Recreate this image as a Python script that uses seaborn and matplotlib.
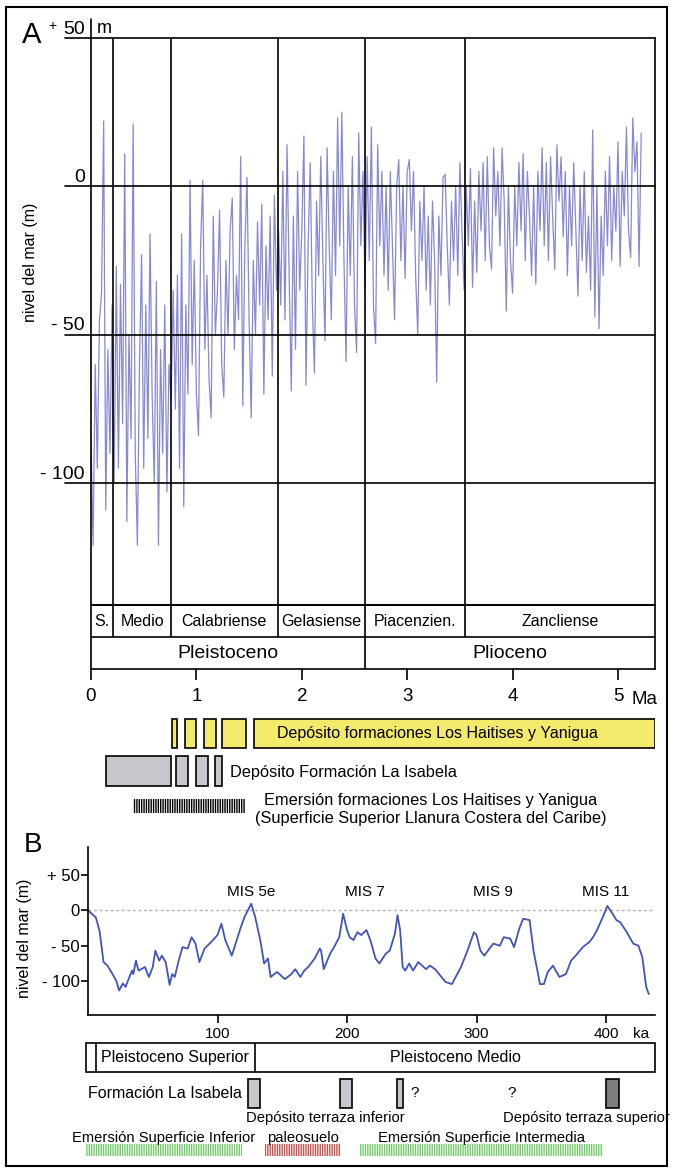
import numpy as np
import matplotlib
matplotlib.use("Agg")
import matplotlib.pyplot as plt
from matplotlib.patches import Rectangle
import seaborn as sns

# ---------------- data ----------------
# A: sea level (m), one reading every 0.02 Ma, from 0 to 5.22 Ma
ma_step = 0.02
sea_level_a = [
    -85, -121, -60, -95, -45, -36, 22, -109, -55, -90,
    -40, -100, -27, -95, -33, -80, 11, -113, -50, -85,
    21, -90, -121, -60, -23, -95, -40, -85, -16, -70,
    -100, -32, -121, -55, -90, -40, -103, -60, -72, -35,
    -75, -30, -95, -16, -108, -40, -70, 2, -60, -25,
    -70, -84, -20, 2, -55, -30, -65, -78, -10, -50,
    -35, -8, -60, -71, -25, -50, -15, -4, -55, -30,
    -45, 10, -74, -20, 3, -45, -78, -25, -50, -12,
    -40, -6, -70, -20, -45, -10, -64, -3, -35, -15,
    -40, 5, -45, 14, -30, -69, -10, -55, 5, -35,
    -15, 17, -67, -20, 8, -40, -63, -5, -30, 10,
    -25, -52, 13, -20, -45, 5, -30, 23, -20, 25,
    -25, -59, 0, -30, 10, -40, -56, 18, -20, 5,
    -35, 10, -25, 20, -40, -53, 14, -20, 5, -30,
    0, -35, 5, -20, -45, 0, 9, -25, 0, -31,
    5, 9, -15, 5, -30, -50, -5, -25, 0, -35,
    -10, -40, -5, -25, -66, -10, -30, 3, 4, -20,
    -40, -5, -25, 0, -30, 8, -15, -35, 0, -20,
    6, -34, -5, -29, 5, -15, 8, -25, 10, -20,
    -28, 13, -10, 5, -20, 13, -5, -42, 0, -25,
    -36, 0, -20, 8, -15, 11, -25, 5, -10, -30,
    0, -33, 5, -15, 13, -20, 8, -25, 10, -10,
    -28, 14, -5, 10, -17, 5, -30, 0, -20, 8,
    -15, -37, 0, -25, 5, -29, -10, -35, 19, -44,
    0, -48, -10, -30, 5, -20, 10, -25, 0, -15,
    15, -27, 5, -10, 20, -15, -24, 23, 5, 15,
    -27, 18,
]
level_ticks_a = [50, 0, -50, -100]
level_labels_a = ["50", "0", "- 50", "- 100"]

stage_names = ["S.", "Medio", "Calabriense", "Gelasiense", "Piacenzien.", "Zancliense"]
stage_edges = [0, 0.21, 0.76, 1.77, 2.60, 3.55, 5.351]
epoch_names = ["Pleistoceno", "Plioceno"]
epoch_edges = [0, 2.60, 5.351]
ma_ticks = [0, 1, 2, 3, 4, 5]

yellow_start = [0.77, 0.89, 1.07, 1.24, 1.55]
yellow_end = [0.82, 1.00, 1.19, 1.47, 5.351]
grey_start = [0.14, 0.81, 1.00, 1.18]
grey_end = [0.76, 0.92, 1.11, 1.24]
emersion_a = [0.40, 1.46]

# B: last 435 ka
ka_b = [0, 4, 6, 9, 12, 15, 19, 22, 24, 27, 29, 32, 34, 35, 37, 39, 44, 47, 50, 52,
        55, 57, 60, 63, 65, 67, 70, 73, 77, 80, 83, 86, 90, 95, 100, 103, 106, 111, 118, 121,
        126, 129, 133, 136, 139, 141, 146, 152, 157, 160, 164, 167, 170, 175, 179, 180, 182, 187, 190, 194,
        197, 200, 202, 205, 208, 211, 215, 218, 222, 225, 230, 233, 237, 239, 241, 243, 245, 248, 251, 255,
        261, 264, 268, 276, 281, 288, 293, 298, 300, 303, 306, 310, 313, 318, 321, 326, 329, 333, 336, 341,
        344, 349, 352, 355, 359, 364, 369, 373, 378, 382, 387, 390, 393, 397, 401, 405, 408, 411, 416, 421,
        425, 428, 431, 433]
sea_level_b = [0, -7, -10, -30, -73, -78, -90, -100, -113, -103, -108, -94, -85, -90, -71, -85, -80, -94, -80, -57,
               -71, -64, -73, -105, -90, -94, -71, -52, -54, -38, -47, -73, -54, -45, -35, -19, -42, -64, -24, -9,
               9, -9, -42, -75, -68, -94, -87, -97, -90, -83, -94, -85, -80, -68, -54, -57, -83, -61, -52, -38,
               -5, -28, -38, -42, -31, -35, -28, -42, -68, -75, -61, -57, -33, -7, -28, -80, -85, -75, -85, -73,
               -83, -78, -83, -101, -104, -80, -57, -31, -35, -57, -64, -54, -47, -50, -38, -40, -52, -26, -12, -14,
               -57, -104, -104, -87, -78, -94, -90, -71, -61, -52, -45, -38, -28, -12, 6, -5, -14, -17, -31, -47,
               -50, -66, -108, -118]
mis_names = ["MIS 5e", "MIS 7", "MIS 9", "MIS 11"]
mis_ka = [126, 214, 313, 400]
ka_ticks = [100, 200, 300, 400]
level_ticks_b = [50, 0, -50, -100]
level_labels_b = ["+ 50", "0", "- 50", "- 100"]

epoch_names_b = ["Pleistoceno Superior", "Pleistoceno Medio"]
epoch_edges_b = [-1.5, 6, 129, 437.8]
isabela_start = [123.6, 194.6, 238.6, 400.0]
isabela_end = [132.8, 203.9, 243.2, 410.0]
isabela_colors = ["#c6c7cd", "#c6c7cd", "#c6c7cd", "#7e7e82"]
question_ka = [252, 327]
terrace_names = ["Depósito terraza inferior", "Depósito terraza superior"]
terrace_ka = [183, 385]
surface_names = ["Emersión Superficie Inferior", "paleosuelo", "Emersión Superficie Intermedia"]
surface_start = [-1.5, 136.7, 210.0]
surface_end = [118.9, 194.6, 397.7]
surface_colors = ["#74cc6c", "#cc5250", "#74cc6c"]

# ---------------- style ----------------
sns.set_theme(style="white", rc={"axes.edgecolor": "black", "text.color": "black",
                                 "xtick.color": "black", "ytick.color": "black"})
plt.rcParams["font.family"] = ["Liberation Sans", "DejaVu Sans"]
plt.rcParams["hatch.linewidth"] = 1.0

W, H = 673, 1176
fig = plt.figure(figsize=(W / 100, H / 100), dpi=100)
LW = 1.2


def add_px_axes(x0, y0, x1, y1):
    ax = fig.add_axes([x0 / W, 1 - y1 / H, (x1 - x0) / W, (y1 - y0) / H])
    ax.set_facecolor("none")
    return ax


# ---------------- panel A ----------------
ma_max = 5.351
ma_a = np.arange(len(sea_level_a)) * ma_step

axA = add_px_axes(91, 38, 655, 605)
sns.lineplot(x=ma_a, y=sea_level_a, ax=axA, color="#8789d2", linewidth=0.9,
             estimator=None, sort=False)
axA.set_xlim(0, ma_max)
axA.set_ylim(-141.1, 50)
axA.set_xticks([])
axA.set_yticks([])
axA.set_xlabel("")
axA.set_ylabel("")
axA.spines["top"].set_visible(False)
for s in ["left", "right", "bottom"]:
    axA.spines[s].set_linewidth(LW)
for v, lab in zip(level_ticks_a, level_labels_a):
    axA.plot([-0.25, ma_max], [v, v], color="black", lw=LW, clip_on=False, zorder=3)
    axA.annotate(lab, xy=(0, v), xytext=(-4.5, 3.2), textcoords="offset points",
                 ha="right", va="baseline", fontsize=14, annotation_clip=False)
axA.plot([0, 0], [50, 56.5], color="black", lw=LW, clip_on=False)
for b in stage_edges[1:-1]:
    axA.axvline(b, color="black", lw=LW, zorder=3)

fig.text(22 / W, 1 - 35 / H, "A", fontsize=21, va="center", ha="left")
fig.text(48 / W, 1 - 26 / H, "+", fontsize=10, va="center", ha="left")
fig.text(97 / W, 1 - 33 / H, "m", fontsize=13, va="baseline", ha="left")
fig.text(31 / W, 1 - 262 / H, "nivel del mar (m)", fontsize=11.5, rotation=90,
         va="center", ha="center")

# stage / epoch rows
axS = add_px_axes(91, 605, 655, 669)
axS.set_xlim(0, ma_max)
axS.set_ylim(0, 2)
for s in axS.spines.values():
    s.set_linewidth(LW)
axS.axhline(1, color="black", lw=LW)
axS.vlines(stage_edges[1:-1], 1, 2, color="black", lw=LW)
axS.vlines(epoch_edges[1:-1], 0, 1, color="black", lw=LW)
for name, a, b in zip(stage_names, stage_edges[:-1], stage_edges[1:]):
    axS.text((a + b) / 2, 1.5, name, ha="center", va="center", fontsize=11.5)
for name, a, b in zip(epoch_names, epoch_edges[:-1], epoch_edges[1:]):
    axS.text((a + b) / 2, 0.5, name, ha="center", va="center", fontsize=14)
axS.set_yticks([])
axS.set_xticks(ma_ticks)
axS.set_xticklabels([str(t) for t in ma_ticks])
axS.tick_params(axis="x", bottom=True, direction="out", length=8, width=LW, pad=6,
                labelsize=13.5)
axS.annotate("Ma", xy=(ma_ticks[-1], 0), xytext=(9.4, -25), textcoords="offset points",
             ha="left", va="baseline", fontsize=13.5, annotation_clip=False)

# deposit bars
axD = add_px_axes(91, 700, 655, 830)
axD.set_xlim(0, ma_max)
axD.set_ylim(830, 700)
axD.axis("off")
axD.barh(733.5, np.subtract(yellow_end, yellow_start), left=yellow_start, height=29,
         color="#f3e96b", edgecolor="black", linewidth=LW)
axD.barh(771, np.subtract(grey_end, grey_start), left=grey_start, height=30,
         color="#c6c7cd", edgecolor="black", linewidth=LW)
axD.barh(806, emersion_a[1] - emersion_a[0], left=emersion_a[0], height=14,
         color="none", edgecolor="black", hatch="|" * 7, linewidth=0)
axD.text(3.29, 733.5, "Depósito formaciones Los Haitises y Yanigua", ha="center",
         va="center", fontsize=11.5)
axD.text(1.32, 772, "Depósito Formación La Isabela", ha="left", va="center", fontsize=11.8)
axD.text(3.22, 801, "Emersión formaciones Los Haitises y Yanigua", ha="center",
         va="center", fontsize=11.8)
axD.text(3.22, 818, "(Superficie Superior Llanura Costera del Caribe)", ha="center",
         va="center", fontsize=11.8)

# ---------------- panel B ----------------
axB = add_px_axes(88, 847, 655, 1015)
sns.lineplot(x=ka_b, y=sea_level_b, ax=axB, color="#4154b8", linewidth=1.3,
             estimator=None, sort=False)
axB.set_xlim(0, 437.8)
axB.set_ylim(-147.5, 88.9)
axB.set_xlabel("")
axB.set_ylabel("")
axB.spines["top"].set_visible(False)
axB.spines["right"].set_visible(False)
for s in ["left", "bottom"]:
    axB.spines[s].set_linewidth(LW)
axB.axhline(0, color="#b0b0b0", lw=1.0, ls=(0, (2, 2)), zorder=1)
axB.set_xticks(ka_ticks)
axB.set_xticklabels([str(t) for t in ka_ticks])
axB.set_yticks(level_ticks_b)
axB.set_yticklabels(level_labels_b)
axB.tick_params(axis="x", bottom=True, direction="out", length=6, width=LW, pad=3,
                labelsize=11)
axB.tick_params(axis="y", left=True, direction="out", length=5, width=LW, pad=1,
                labelsize=12)
axB.annotate("ka", xy=(ka_ticks[-1], -147.5), xytext=(19.4, -16.5), textcoords="offset points",
             ha="left", va="baseline", fontsize=11, annotation_clip=False)
for name, k in zip(mis_names, mis_ka):
    axB.text(k, 19.5, name, ha="center", va="baseline", fontsize=11)

fig.text(24 / W, 1 - 845 / H, "B", fontsize=20, va="center", ha="left")
fig.text(25 / W, 1 - 938 / H, "nivel del mar (m)", fontsize=11.5, rotation=90,
         va="center", ha="center")

# lower rows of B
axB2 = add_px_axes(88, 1035, 655, 1165)
axB2.set_xlim(0, 437.8)
axB2.set_ylim(1165, 1035)
axB2.axis("off")
axB2.barh(1057.5, epoch_edges_b[-1] - epoch_edges_b[0], left=epoch_edges_b[0], height=29.5,
          color="white", edgecolor="black", linewidth=LW, clip_on=False)
axB2.vlines(epoch_edges_b[1:-1], 1042.75, 1072.25, color="black", lw=LW)
for name, a, b in zip(epoch_names_b, epoch_edges_b[1:-1], epoch_edges_b[2:]):
    axB2.text((a + b) / 2, 1057.5, name, ha="center", va="center", fontsize=11.5)
axB2.barh(1093.5, np.subtract(isabela_end, isabela_start), left=isabela_start, height=29,
          color=isabela_colors, edgecolor="black", linewidth=LW)
axB2.text(isabela_start[0] - 4.5, 1093, "Formación La Isabela", ha="right", va="center",
          fontsize=11.5)
for k in question_ka:
    axB2.text(k, 1093, "?", ha="center", va="center", fontsize=11)
for name, k in zip(terrace_names, terrace_ka):
    axB2.text(k, 1118, name, ha="center", va="center", fontsize=10.6)
for name, a, b, c in zip(surface_names, surface_start, surface_end, surface_colors):
    axB2.text((a + b) / 2, 1138, name, ha="center", va="center", fontsize=10.6)
    axB2.barh(1150, b - a, left=a, height=12, color="none", edgecolor=c,
              hatch="|" * 7, linewidth=0, clip_on=False)

# outer frame
fig.add_artist(Rectangle((6 / W, 1 - 1166 / H), 661 / W, 1159 / H, transform=fig.transFigure,
                         fill=False, edgecolor="black", linewidth=1.5))

fig.savefig("out.png", dpi=100)
